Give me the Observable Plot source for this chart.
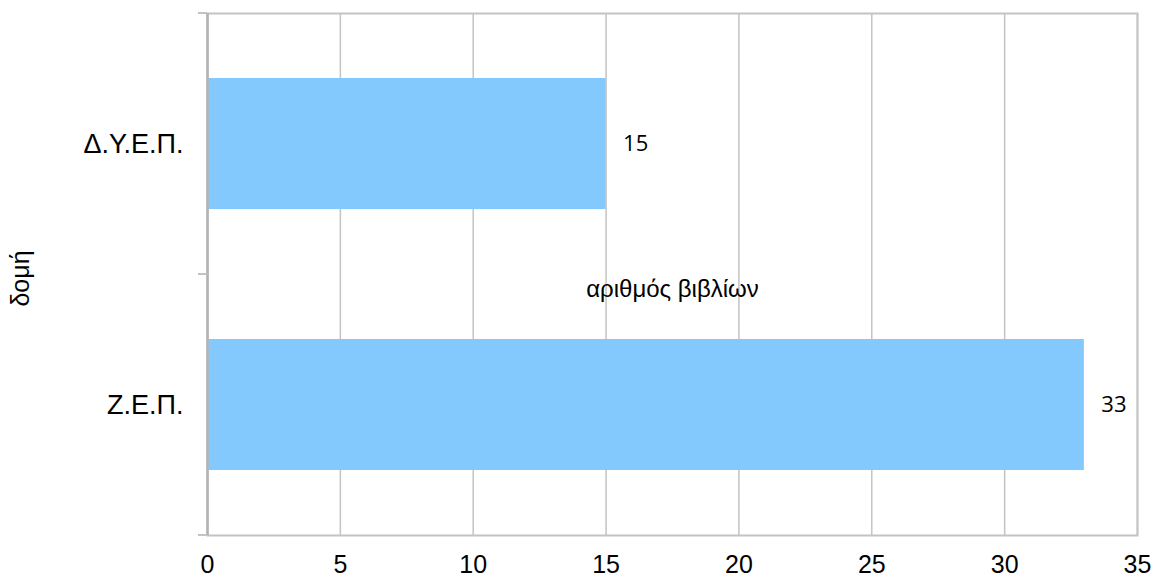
<!DOCTYPE html>
<html>
<head>
<meta charset="utf-8">
<script src="https://cdn.jsdelivr.net/npm/d3@7"></script>
<script src="https://cdn.jsdelivr.net/npm/@observablehq/plot@0.6"></script>
<style>
  html, body { margin: 0; padding: 0; background: #fff; }
  #chart svg { display: block; }
</style>
</head>
<body>
<div id="chart"></div>
<script>
// Number of books per structure
const structures = ["Δ.Υ.Ε.Π.", "Ζ.Ε.Π."];
const bookCounts = [15, 33];
const xTicks = [0, 5, 10, 15, 20, 25, 30, 35];
const xLabel = "αριθμός βιβλίων";
const yLabel = "δομή";

const rows = structures.map((s, i) => ({structure: s, books: bookCounts[i]}));

const grid = "#c3c3c3";
const sans = "'Liberation Sans', Arial, sans-serif";

const chart = Plot.plot({
  width: 1154,
  height: 579,
  marginLeft: 207,
  marginRight: 17,
  marginTop: 13,
  marginBottom: 44,
  style: {fontFamily: sans, background: "#fff", color: "#000"},
  x: {domain: [0, 35]},
  y: {domain: structures, paddingInner: 0.5, paddingOuter: 0.25},
  marks: [
    Plot.ruleX(xTicks, {stroke: grid, strokeWidth: 1.5}),
    Plot.frame({stroke: grid, strokeWidth: 2}),
    Plot.barX(rows, {x: "books", y: "structure", fill: "#83c9fd"}),
    Plot.ruleX([0], {stroke: "#b4b4b4", strokeWidth: 2.5}),
    Plot.text(rows, {
      x: "books", y: "structure", text: d => String(d.books),
      textAnchor: "start", dx: 17, fontFamily: "'Open Sans', sans-serif", fontSize: 22, fill: "#000"
    }),
    Plot.text([xLabel], {frameAnchor: "middle", dy: 15, fontSize: 24, fill: "#000"}),
    Plot.text([yLabel], {
      frameAnchor: "left", textAnchor: "middle", rotate: -90,
      dx: -187, dy: 4, fontSize: 25, fill: "#000"
    }),
    Plot.axisX({ticks: xTicks, tickSize: 0, tickPadding: 20, fontSize: 25, label: null}),
    Plot.axisY({tickSize: 0, tickPadding: 24, fontSize: 27, label: null})
  ]
});

// Short ticks on the left edge at the boundaries between category bands
const x = chart.scale("x");
const y = chart.scale("y");
const gap = (y.step - y.bandwidth) / 2;
const bounds = [y.apply(structures[0]) - gap, ...structures.map(s => y.apply(s) + y.bandwidth + gap)];
const x0 = x.apply(0);
d3.select(chart).append("g")
  .attr("stroke", grid)
  .attr("stroke-width", 2)
  .selectAll("line")
  .data(bounds)
  .join("line")
  .attr("x1", x0 - 9)
  .attr("x2", x0)
  .attr("y1", d => d)
  .attr("y2", d => d);

document.getElementById("chart").append(chart);
</script>
</body>
</html>
